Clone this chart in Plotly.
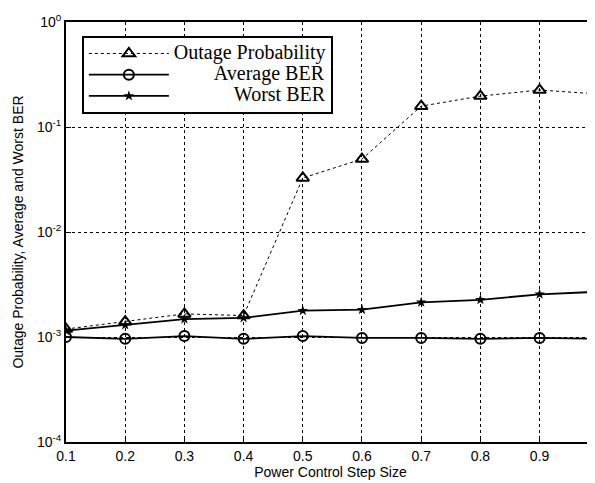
import plotly.graph_objects as go

step = [0.1, 0.2, 0.3, 0.4, 0.5, 0.6, 0.7, 0.8, 0.9, 1.0]
outage = [1.19e-3, 1.4e-3, 1.66e-3, 1.6e-3, 0.0327, 0.0495, 0.158, 0.197, 0.225, 0.206]
avg_ber = [1.0e-3, 0.96e-3, 1.02e-3, 0.96e-3, 1.02e-3, 0.98e-3, 0.98e-3, 0.96e-3, 0.98e-3, 0.96e-3]
worst_ber = [1.15e-3, 1.3e-3, 1.48e-3, 1.52e-3, 1.78e-3, 1.82e-3, 2.14e-3, 2.26e-3, 2.55e-3, 2.7e-3]

x_ticks = [0.1, 0.2, 0.3, 0.4, 0.5, 0.6, 0.7, 0.8, 0.9]
x_labels = ["0.1", "0.2", "0.3", "0.4", "0.5", "0.6", "0.7", "0.8", "0.9"]
y_ticks = [1e-4, 1e-3, 1e-2, 1e-1, 1]
y_labels = ["10<sup>-4</sup>", "10<sup>-3</sup>", "10<sup>-2</sup>", "10<sup>-1</sup>", "10<sup>0</sup>"]

names = ["Outage Probability", "Average BER", "Worst BER"]
pads = [0, 8, 12]


def legend_name(i):
    return '<span style="font-size:20px">' + "\u00a0" * pads[i] + names[i] + "</span>"


fig = go.Figure()
fig.add_trace(go.Scatter(
    x=step, y=outage, name=legend_name(0), mode="lines+markers",
    line=dict(color="black", width=1, dash="dot"),
    marker=dict(symbol="triangle-up-open", size=11, color="black", line=dict(width=2)),
))
fig.add_trace(go.Scatter(
    x=step, y=avg_ber, name=legend_name(1), mode="lines+markers",
    line=dict(color="black", width=1.8),
    marker=dict(symbol="circle-open", size=10, color="black", line=dict(width=2)),
))
fig.add_trace(go.Scatter(
    x=step, y=worst_ber, name=legend_name(2), mode="lines+markers",
    line=dict(color="black", width=1.8),
    marker=dict(symbol="star", size=8, color="black"),
))

# the page body has an 8px margin, so the figure is offset by 8px
fig.update_layout(
    width=587, height=475,
    margin=dict(l=58, r=0, t=14, b=41),
    paper_bgcolor="white", plot_bgcolor="white",
    font=dict(family="Liberation Sans, Arial", color="black", size=14),
    showlegend=True,
    legend=dict(
        x=0.030, y=0.967, xanchor="left", yanchor="top",
        bordercolor="black", borderwidth=2, bgcolor="white",
        font=dict(family="Liberation Serif, Times New Roman", size=14, color="black"),
        itemwidth=80, tracegroupgap=0,
    ),
    xaxis=dict(
        range=[0.1, 0.9936], tickvals=x_ticks, ticktext=x_labels,
        showgrid=True, gridcolor="black", griddash="dot", gridwidth=1,
        showline=True, linecolor="black", linewidth=2, mirror=True,
        ticks="inside", ticklen=5, tickcolor="black",
        zeroline=False, automargin=False,
        title=dict(text="Power Control Step Size", font=dict(size=14), standoff=0),
        tickfont=dict(size=14),
    ),
    yaxis=dict(
        type="log", range=[-4, 0], tickvals=y_ticks, ticktext=y_labels,
        showgrid=True, gridcolor="black", griddash="dot", gridwidth=1,
        showline=True, linecolor="black", linewidth=2, mirror=True,
        ticks="inside", ticklen=5, tickcolor="black",
        zeroline=False, automargin=False,
        title=dict(text="Outage Probability, Average and Worst BER", font=dict(size=14), standoff=10),
        tickfont=dict(size=14),
    ),
)

fig.write_html("out.html")
